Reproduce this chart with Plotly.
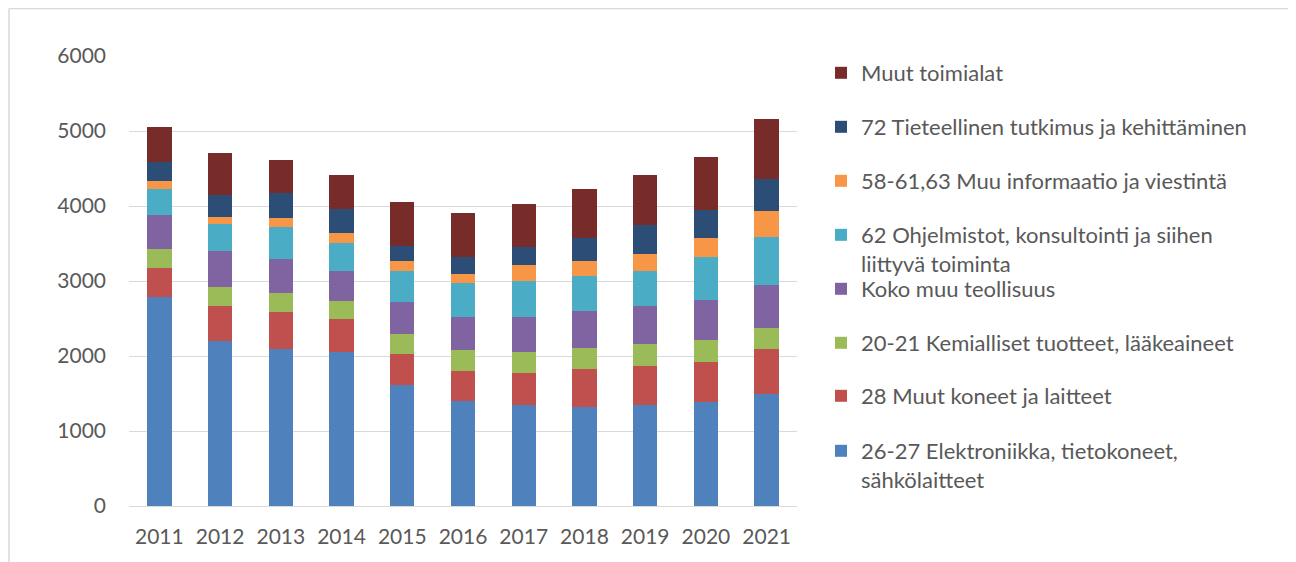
import plotly.graph_objects as go

years = ["2011", "2012", "2013", "2014", "2015", "2016", "2017", "2018", "2019", "2020", "2021"]

elektroniikka = [2782, 2204, 2089, 2049, 1609, 1396, 1342, 1324, 1342, 1382, 1489]
koneet = [396, 467, 502, 440, 422, 408, 436, 503, 529, 542, 600]
kemia = [249, 249, 249, 244, 258, 272, 271, 275, 289, 285, 284]
teollisuus = [457, 476, 449, 396, 435, 440, 475, 498, 502, 533, 574]
ohjelmistot = [343, 368, 427, 373, 409, 462, 480, 471, 476, 578, 640]
informaatio = [106, 94, 120, 142, 138, 115, 209, 191, 218, 258, 346]
tutkimus = [249, 293, 333, 312, 200, 223, 236, 307, 395, 369, 423]
muut = [467, 551, 440, 457, 582, 586, 582, 662, 662, 702, 800]

series_names = [
    "26-27 Elektroniikka, tietokoneet,<br>sähkölaitteet",
    "28 Muut koneet ja laitteet",
    "20-21 Kemialliset tuotteet, lääkeaineet",
    "Koko muu teollisuus",
    "62 Ohjelmistot, konsultointi ja siihen<br>liittyvä toiminta",
    "58-61,63 Muu informaatio ja viestintä",
    "72 Tieteellinen tutkimus ja kehittäminen",
    "Muut toimialat",
]
series_values = [elektroniikka, koneet, kemia, teollisuus, ohjelmistot, informaatio, tutkimus, muut]
colors = ["#4F81BD", "#C0504D", "#9BBB59", "#8064A2", "#4BACC6", "#F79646", "#2C4D75", "#772C2A"]

FONT = "Lato"
TXT = "#595959"
OFF = 8  # page body margin
W, H = 1296 - OFF, 562 - OFF
L, R, T, B = 129 - OFF, W - (797 - OFF), 56 - OFF, H - (506 - OFF)
PW, PH = W - L - R, H - T - B

def px_x(px):
    # page pixel -> paper
    return (px - OFF - L) / PW

def px_y(py):
    return (H - B - (py - OFF)) / PH

# legend first-line centre positions (page pixels), bottom item first
legend_centres = [451, 396, 343, 289, 235, 181, 127, 73]

fig = go.Figure()
layout_legends = {}
for i, (name, vals, col) in enumerate(zip(series_names, series_values, colors)):
    lname = "legend" if i == 0 else f"legend{i+1}"
    fig.add_trace(go.Bar(
        x=years, y=vals, name=name, marker=dict(color=col, line=dict(width=0)),
        legend=lname,
    ))
    layout_legends[lname] = dict(
        x=px_x(821), xanchor="left",
        y=px_y(legend_centres[i] - 21), yanchor="top",
        font=dict(family=FONT, size=22, color=TXT),
        bgcolor="rgba(0,0,0,0)", borderwidth=0, valign="top",
    )

fig.update_layout(
    width=W, height=H,
    margin=dict(l=L, r=R, t=T, b=B),
    barmode="stack", bargap=0.6,
    plot_bgcolor="white", paper_bgcolor="white",
    font=dict(family=FONT, size=21, color=TXT),
    showlegend=True,
    xaxis=dict(showgrid=False, showline=True, linecolor="#d9d9d9", linewidth=1,
               ticks="", ticklabelstandoff=12, tickfont=dict(family=FONT, size=21, color=TXT)),
    yaxis=dict(range=[0, 6000], dtick=1000, showgrid=True, gridcolor="#d9d9d9", gridwidth=1,
               zeroline=False, showline=False, ticks="", ticklabelstandoff=22,
               tickfont=dict(family=FONT, size=21, color=TXT)),
    **layout_legends,
)

# chart area border (top and left edges)
fig.add_shape(type="line", xref="paper", yref="paper",
              x0=px_x(9), x1=px_x(1296), y0=px_y(8.5), y1=px_y(8.5),
              line=dict(color="#d9d9d9", width=1.5))
fig.add_shape(type="line", xref="paper", yref="paper",
              x0=px_x(9), x1=px_x(9), y0=px_y(8.5), y1=px_y(562),
              line=dict(color="#d9d9d9", width=1.5))

fig.write_html("out.html")
